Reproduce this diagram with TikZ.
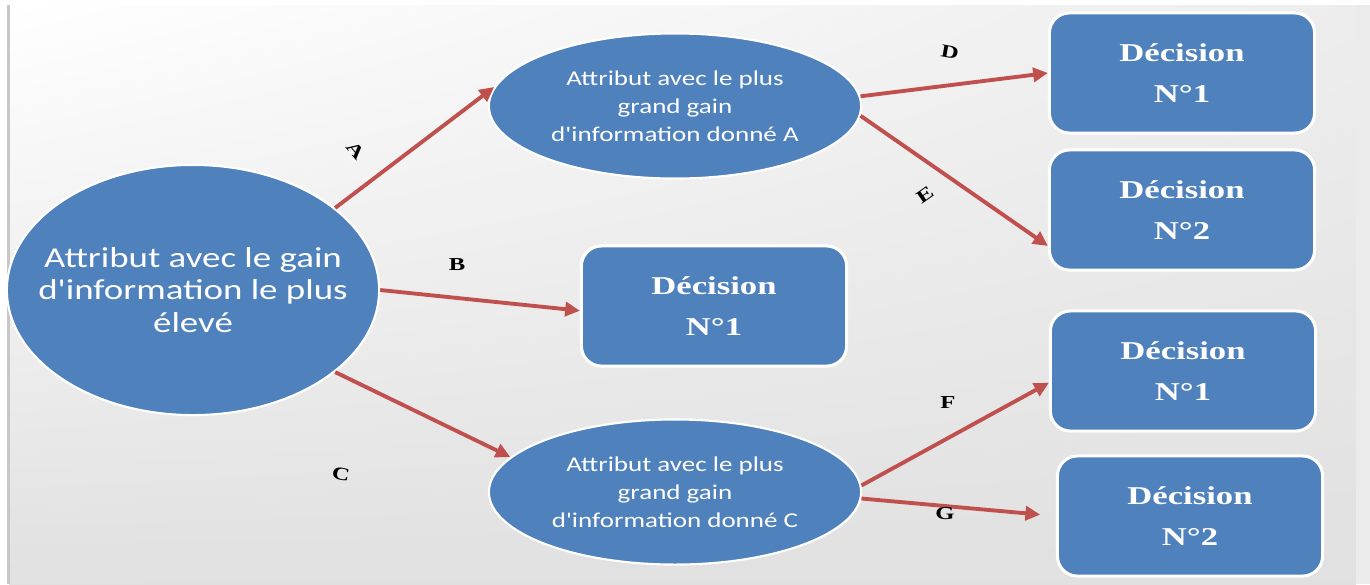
\documentclass[tikz,border=0pt]{standalone}
\usepackage{fontspec}
\usetikzlibrary{shapes.geometric,arrows.meta,shadings}
\newfontfamily\ellfont[FakeStretch=1.28]{Carlito}
\newfontfamily\decfont[FakeStretch=1.35]{Liberation Serif}
\definecolor{nodeblue}{RGB}{79,129,189}
\definecolor{arrowred}{RGB}{192,80,77}
\begin{document}
\begin{tikzpicture}[x=0.01cm,y=-0.01cm,
  blob/.style={ellipse, fill=nodeblue, draw=white, line width=0.6pt,
    inner sep=0pt},
  rootnode/.style={blob, minimum width=3.72cm, minimum height=2.5cm},
  subnode/.style={blob, minimum width=3.72cm, minimum height=1.45cm},
  roottext/.style={text=white, align=center, inner sep=0pt,
    font=\ellfont\fontsize{8.2}{9.2}\selectfont},
  subtext/.style={text=white, align=center, inner sep=0pt,
    font=\ellfont\fontsize{6}{7.9}\selectfont},
  decision/.style={rectangle, rounded corners=0.2cm, fill=nodeblue, draw=white,
    line width=0.85pt, minimum width=2.65cm, minimum height=1.2cm, text=white,
    align=center, font=\decfont\bfseries\fontsize{7.3}{8.8}\selectfont},
  link/.style={draw=arrowred, line width=1.1pt,
    -{Triangle[length=4.2pt,width=4pt]}},
  tag/.style={font=\decfont\bfseries\fontsize{5.2}{6}\selectfont,
    text=black, inner sep=0pt}]
\useasboundingbox (0,0) rectangle (1370,584);

% page background
\fill[white] (0,0) rectangle (1370,584);
\shade[upper left=white, upper right=black!7, lower left=black!12,
  lower right=black!12] (9,5) rectangle (1356,584);
\fill[black!8] (1356,5) rectangle (1370,584);
\fill[black!22] (7,5) rectangle (9.5,584);

% attribute ellipses and their captions
\node[rootnode] (root) at (193,290) {};
\node[roottext] (rootT) at (root.center)
  {Attribut avec le gain\\d'information le plus\\élevé};
\node[subnode] (attA) at (675,106) {};
\node[subtext] (attAT) at (attA.center)
  {Attribut avec le plus\\grand gain\\d'information donné A};
\node[subnode] (attC) at (675,492) {};
\node[subtext] (attCT) at (attC.center)
  {Attribut avec le plus\\grand gain\\d'information donné C};

% decision boxes
\node[decision] (decB) at (714,306) {Décision\\[3pt]N°1};
\node[decision] (decD) at (1182,73) {Décision\\[3pt]N°1};
\node[decision] (decE) at (1182,210) {Décision\\[3pt]N°2};
\node[decision] (decF) at (1183,371) {Décision\\[3pt]N°1};
\node[decision] (decG) at (1190,516) {Décision\\[3pt]N°2};

% connectors
\draw[link] (root.30) -- (attA.174);
\draw[link] (root.0) -- (decB.182);
\draw[link] (root.-30) -- (attC.168);
\draw[link] (attA.3) -- (decD.west);
\draw[link] (attA.-3) -- (decE.195);
\draw[link] (attC.2) -- (decF.185);
\draw[link, shorten >=4.5pt] (attC.-2) -- (decG.west);

% branch letters
\node[tag, rotate=-50] (lA) at (356,150) {A};
\node[tag] (lB) at (457,265) {B};
\node[tag, rotate=-10] (lC) at (341,474) {C};
\node[tag, rotate=-10] (lD) at (950,52) {D};
\node[tag, rotate=35] (lE) at (925,195) {E};
\node[tag] (lF) at (948,402) {F};
\node[tag] (lG) at (945,514) {G};
\end{tikzpicture}
\end{document}
